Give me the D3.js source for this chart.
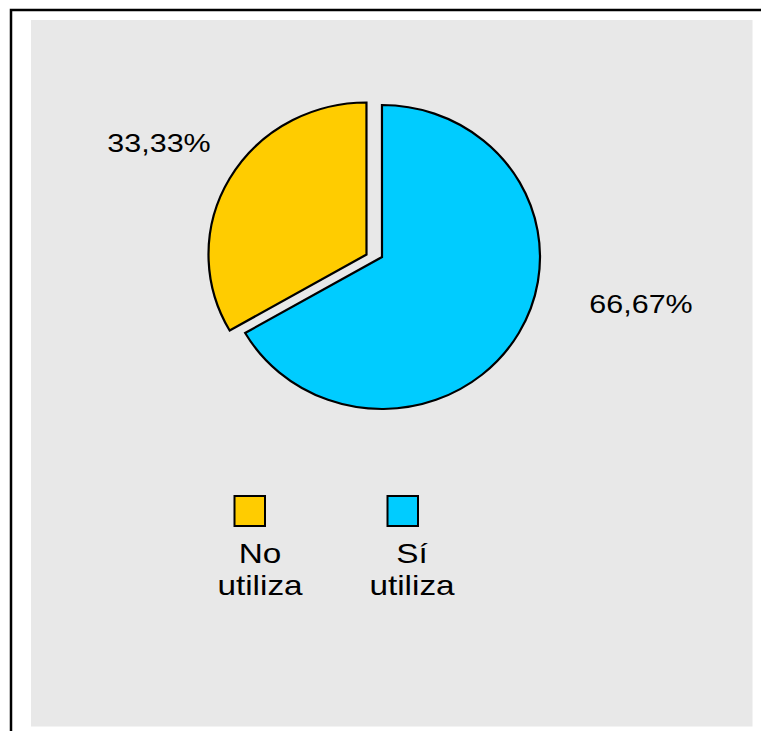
<!DOCTYPE html>
<html>
<head>
<meta charset="utf-8">
<script src="https://cdn.jsdelivr.net/npm/d3@7"></script>
<style>
  html, body { margin: 0; padding: 0; background: #ffffff; }
  svg { display: block; }
  text { font-family: "Liberation Sans", Arial, sans-serif; fill: #000; }
</style>
</head>
<body>
<svg id="chart" width="761" height="731"></svg>
<script>
// Usage shares
const categories = ["No utiliza", "Sí utiliza"];
const values = [33.33, 66.67];
const valueLabels = ["33,33%", "66,67%"];
const legendLines = [["No", "utiliza"], ["Sí", "utiliza"]];
const colors = ["#ffcc00", "#00ccff"];

const svg = d3.select("#chart");

// outer frame (open to the right and bottom) and plot panel
svg.append("rect")
  .attr("x", 11).attr("y", 10).attr("width", 800).attr("height", 800)
  .attr("fill", "#ffffff").attr("stroke", "#000").attr("stroke-width", 2.5);
svg.append("rect")
  .attr("x", 31).attr("y", 20).attr("width", 721.5).attr("height", 706.5)
  .attr("fill", "#e8e8e8");

// pie
const cx = 382, cy = 257, ry = 152, rx = 158;
const pie = d3.pie().sort(null)
  .startAngle(-2 * Math.PI / 3)
  .endAngle(4 * Math.PI / 3);
const arc = d3.arc().innerRadius(0).outerRadius(ry);
const slices = pie(values);

// exploded slice offset
const explode = [[-15.5, -2.5], [0, 0]];

const pieG = svg.append("g")
  .attr("transform", `translate(${cx},${cy})`);

pieG.selectAll("g.slice")
  .data(slices)
  .join("g")
  .attr("class", "slice")
  .attr("transform", (d, i) => `translate(${explode[i][0]},${explode[i][1]}) scale(${rx / ry},1)`)
  .append("path")
  .attr("d", arc)
  .attr("fill", (d, i) => colors[i])
  .attr("stroke", "#000")
  .attr("stroke-width", 2.2)
  .attr("stroke-linejoin", "miter")
  .attr("vector-effect", "non-scaling-stroke");

// value labels
const labelPos = [[159, 152], [641, 313]];
svg.selectAll("text.val")
  .data(valueLabels)
  .join("text")
  .attr("class", "val")
  .attr("transform", (d, i) => `translate(${labelPos[i][0]},${labelPos[i][1]}) scale(1.15,1)`)
  .attr("text-anchor", "middle")
  .attr("font-size", 26.5)
  .text(d => d);

// legend
const legendX = d3.scalePoint().domain(categories).range([249.5, 402.5]);
const legend = svg.selectAll("g.leg")
  .data(categories)
  .join("g")
  .attr("class", "leg")
  .attr("transform", d => `translate(${legendX(d)},0)`);

legend.append("rect")
  .attr("x", -15).attr("y", 496).attr("width", 30.5).attr("height", 30)
  .attr("fill", (d, i) => colors[i])
  .attr("stroke", "#000").attr("stroke-width", 2);

legend.each(function (d, i) {
  const g = d3.select(this);
  legendLines[i].forEach((line, j) => {
    g.append("text")
      .attr("transform", `translate(${i === 0 ? 10.5 : 9.5},${563 + j * 32}) scale(1.19,1)`)
      .attr("text-anchor", "middle")
      .attr("font-size", 28)
      .text(line);
  });
});
</script>
</body>
</html>
